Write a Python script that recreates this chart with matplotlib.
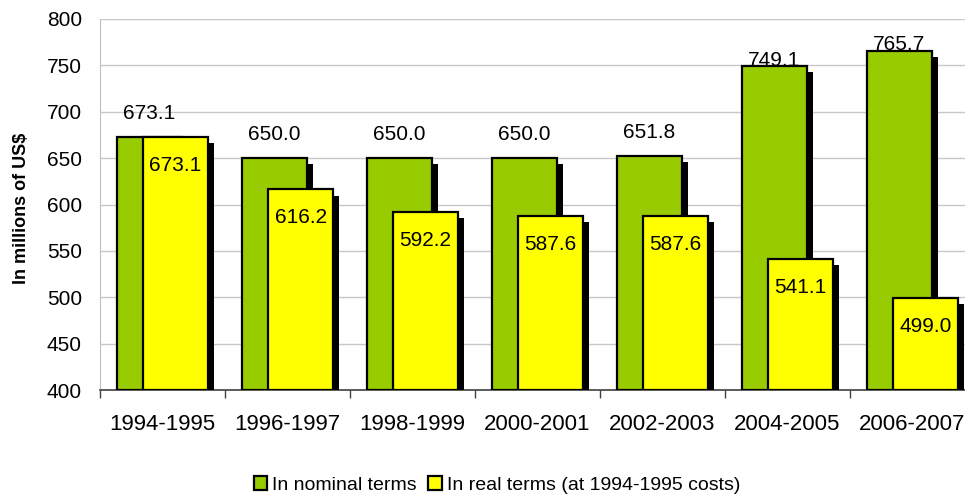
import numpy as np
import matplotlib
matplotlib.use("Agg")
import matplotlib.pyplot as plt
from matplotlib.patches import Patch

# data
periods = ['1994-1995', '1996-1997', '1998-1999', '2000-2001',
           '2002-2003', '2004-2005', '2006-2007']
nominal = [673.1, 650.0, 650.0, 650.0, 651.8, 749.1, 765.7]
real = [673.1, 616.2, 592.2, 587.6, 587.6, 541.1, 499.0]

green = '#99CC00'
yellow = '#FFFF00'

plt.rcParams['font.family'] = ['Liberation Sans', 'DejaVu Sans']

fig = plt.figure(figsize=(9.65, 4.97), dpi=100)
ax = fig.add_axes([100 / 965, 107 / 497, 875 / 965, 371 / 497])

x = np.arange(len(periods))
w = 0.52
off = 0.105
base = 400
# shadow offset, about 6 px right and down
sx = 0.048
sy = 6.5

h_nom = np.array(nominal) - base
h_real = np.array(real) - base

# green bars with their shadows
ax.bar(x - off + sx, h_nom - sy, w, bottom=base, color='black', zorder=2)
ax.bar(x - off, h_nom, w, bottom=base, color=green, edgecolor='black',
       linewidth=1.6, zorder=3)
# yellow bars in front
ax.bar(x + off + sx, h_real - sy, w, bottom=base, color='black', zorder=4)
ax.bar(x + off, h_real, w, bottom=base, color=yellow, edgecolor='black',
       linewidth=1.6, zorder=5)

# value labels (tall bars get their label pushed down onto the bar top)
for i in range(len(x)):
    v = nominal[i]
    if v > 700:
        ty = v + 0.5
    else:
        ty = v + 19.4
    ax.text(x[i] - off, ty, f'{v:.1f}', ha='center', va='baseline',
            fontsize=15, zorder=2.5)
    ax.text(x[i] + off, real[i] - 20.5, f'{real[i]:.1f}', ha='center',
            va='top', fontsize=15, zorder=6)

ax.set_xlim(-0.5, 6.5)
ax.set_ylim(400, 800)
ax.set_yticks(np.arange(400, 801, 50))
ax.tick_params(axis='y', length=0, pad=13, labelsize=15)
ax.set_xticks(x)
ax.set_xticklabels(periods)
ax.set_xticks(np.arange(-0.5, 7, 1), minor=True)
ax.tick_params(axis='x', which='major', length=0, pad=17, labelsize=16)
ax.tick_params(axis='x', which='minor', length=6, width=1, color='#404040',
               direction='out')

ax.grid(axis='y', color='#c8c8c8', linewidth=1)
ax.set_axisbelow(True)
for s in ['top', 'right']:
    ax.spines[s].set_visible(False)
ax.spines['left'].set_color('#c0c0c0')
ax.spines['bottom'].set_color('#404040')
ax.spines['bottom'].set_linewidth(1.2)

ax.set_ylabel('In millions of US$', fontsize=13, fontweight='bold')
ax.yaxis.set_label_coords(-0.08, 0.49)

handles = [Patch(facecolor=green, edgecolor='black', linewidth=1.6),
           Patch(facecolor=yellow, edgecolor='black', linewidth=1.6)]
fig.legend(handles, ['In nominal terms', 'In real terms (at 1994-1995 costs)'],
           loc='center', bbox_to_anchor=(0.515, 0.024), ncol=2, frameon=False,
           fontsize=14, handlelength=0.7, handleheight=0.7,
           handletextpad=0.25, columnspacing=0.6)

fig.savefig('out.png', dpi=100)
